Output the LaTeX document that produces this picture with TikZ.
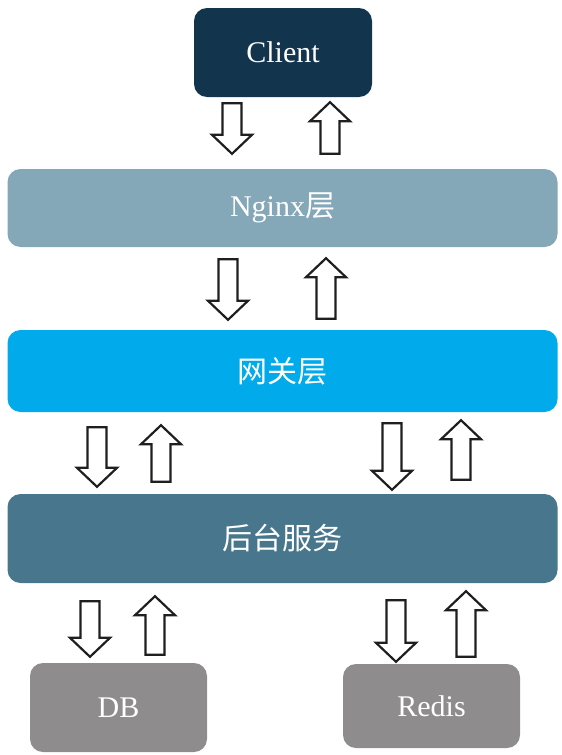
\documentclass[tikz,border=0pt]{standalone}
\usepackage{fontspec}
\setmainfont{Liberation Serif}
\newfontfamily\cjk{Noto Sans CJK SC}
\usepackage{tikz}

\definecolor{clientblue}{HTML}{12344D}
\definecolor{nginxgray}{HTML}{84A8B8}
\definecolor{gatewayblue}{HTML}{00AAEB}
\definecolor{serviceblue}{HTML}{48768C}
\definecolor{storegray}{HTML}{8E8C8D}

\tikzset{
  box/.style={rounded corners=13pt, text=white, inner sep=0pt, font=\fontsize{30}{30}\selectfont},
  hollow/.style={draw=black!88, fill=white, line width=2.2pt, line join=miter}
}

\newcommand{\downblk}[5]{%
  \path (#1,0 |- #2.south) coordinate (s) (#1,0 |- #3.north) coordinate (e);
  \draw[hollow] ([shift={(-9.5,#4)}]s) -- ([shift={(9.5,#4)}]s) -- ([shift={(9.5,-#5-19)}]e) -- ([shift={(20,-#5-19)}]e) -- ([shift={(0,-#5)}]e) -- ([shift={(-20,-#5-19)}]e) -- ([shift={(-9.5,-#5-19)}]e) -- cycle;}
\newcommand{\upblk}[5]{%
  \path (#1,0 |- #2.south) coordinate (s) (#1,0 |- #3.north) coordinate (e);
  \draw[hollow] ([shift={(0,#4)}]s) -- ([shift={(20,#4+19)}]s) -- ([shift={(9.5,#4+19)}]s) -- ([shift={(9.5,-#5)}]e) -- ([shift={(-9.5,-#5)}]e) -- ([shift={(-9.5,#4+19)}]s) -- ([shift={(-20,#4+19)}]s) -- cycle;}

\begin{document}
\begin{tikzpicture}[x=1pt,y=-1pt]
\useasboundingbox (0,0) rectangle (562,755);
\node[box, fill=clientblue, minimum width=178pt, minimum height=89pt] (client) at (283,52.5) {Client};
\node[box, fill=nginxgray, minimum width=550pt, minimum height=78pt] (nginx) at (282.5,208) {Nginx\cjk{层}};
\node[box, fill=gatewayblue, minimum width=550pt, minimum height=82pt] (gateway) at (282.5,371) {\cjk{网关层}};
\node[box, fill=serviceblue, minimum width=550pt, minimum height=89pt] (service) at (282.5,538.5) {\cjk{后台服务}};
\node[box, fill=storegray, minimum width=177pt, minimum height=89pt] (db) at (118.5,707.5) {DB};
\node[box, fill=storegray, minimum width=177pt, minimum height=84pt] (redis) at (431.5,706) {Redis};
\downblk{232}{client}{nginx}{6}{15}
\upblk{330}{client}{nginx}{5}{15}
\downblk{228}{nginx}{gateway}{12}{10}
\upblk{326}{nginx}{gateway}{11}{11}
\downblk{97}{gateway}{service}{15}{7}
\upblk{161}{gateway}{service}{13}{12}
\downblk{392}{gateway}{service}{11}{4}
\upblk{461}{gateway}{service}{8}{14}
\downblk{90}{service}{db}{18}{6}
\upblk{155}{service}{db}{13}{8}
\downblk{396}{service}{redis}{17}{2}
\upblk{466}{service}{redis}{8}{7}
\end{tikzpicture}
\end{document}
